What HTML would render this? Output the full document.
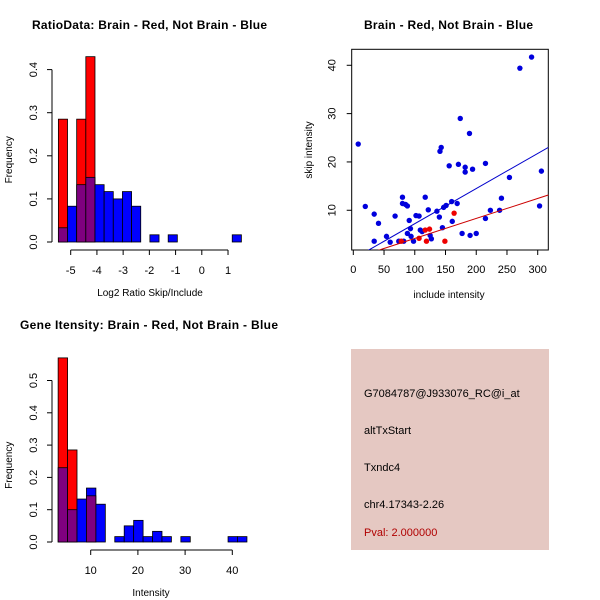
<!DOCTYPE html>
<html><head><meta charset="utf-8"><style>
html,body{margin:0;padding:0;background:#fff;}
svg{display:block;font-family:"Liberation Sans",sans-serif;}
</style></head><body>
<svg id="c" width="600" height="600" viewBox="0 0 600 600">
<rect width="600" height="600" fill="#fff"/>
<text x="32" y="29" font-size="12" font-weight="bold" textLength="235">RatioData: Brain - Red, Not Brain - Blue</text>
<text x="364" y="29" font-size="12" font-weight="bold" textLength="169">Brain - Red, Not Brain - Blue</text>
<text x="20" y="329" font-size="12" font-weight="bold" textLength="258">Gene Itensity: Brain - Red, Not Brain - Blue</text>
<g id="p1"></g>
<g id="p2"></g>
<g id="p3"></g>
<g>
<rect x="351" y="349" width="198" height="201" fill="#e5c8c2"/>
<text x="364" y="397" font-size="11">G7084787@J933076_RC@i_at</text>
<text x="364" y="434" font-size="11">altTxStart</text>
<text x="364" y="471" font-size="11">Txndc4</text>
<text x="364" y="508" font-size="11">chr4.17343-2.26</text>
<text x="364" y="536" font-size="11" fill="#b00000">Pval: 2.000000</text>
</g>
</svg>
<script>
// ---- ratio histogram data ----
const ratioBinStart = -5.47;
const ratioBinWidth = 0.349;
const ratioBlue = [0.033,0.083,0.133,0.15,0.133,0.117,0.10,0.117,0.083,0,0.0167,0,0.0167,0,0,0,0,0,0,0.0167];
const ratioRed  = [0.285,0,0.285,0.43,0,0,0,0,0,0,0,0,0,0,0,0,0,0,0,0];
const ratioXTicks = [-5,-4,-3,-2,-1,0,1];
const ratioYTicks = [0,0.1,0.2,0.3,0.4];
// ---- intensity histogram data ----
const intBinStart = 3.1;
const intBinWidth = 2;
const intBlue = [0.23,0.10,0.133,0.167,0.117,0,0.0167,0.05,0.067,0.0167,0.033,0.0167,0,0.0167,0,0,0,0,0.0167,0.0167];
const intRed  = [0.57,0.285,0,0.143,0,0,0,0,0,0,0,0,0,0,0,0,0,0,0,0];
const intXTicks = [10,20,30,40];
const intYTicks = [0,0.1,0.2,0.3,0.4,0.5];
// ---- scatter data ----
const blueX = [8,19.5,34,34,41,54,60,68,74,80,80,85,88,88,82,91,93,94,98,102,107,109,112,117,122,125,127,136,140,141,143,145,147,151,156,160,161,169,171,174,177,182,182,189,190,194,200,215,215,223,238,241,254,271,290,303,306];
const blueY = [23.7,10.8,9.2,3.6,7.3,4.6,3.4,8.8,3.6,12.7,11.4,11.2,10.9,5.2,3.6,7.9,6.2,4.6,3.6,8.9,8.8,5.9,5.6,12.7,10.1,4.8,4.1,9.8,8.6,22.2,23.0,6.4,10.6,11.0,19.2,11.8,7.7,11.4,19.5,29.0,5.2,18.9,17.9,25.9,4.8,18.5,5.2,8.3,19.7,10.0,10.0,12.5,16.8,39.4,41.7,10.9,18.1];
const redX = [78,107,119,117,124,149,164];
const redY = [3.6,4.2,3.6,5.9,6.1,3.6,9.4];
const blueFit = [-0.05, 0.0727]; // intercept, slope
const redFit = [0.03, 0.0414];
const scXTicks = [0,50,100,150,200,250,300];
const scYTicks = [10,20,30,40];

const NS="http://www.w3.org/2000/svg";
function mk(parent,tag,attrs,name){const e=document.createElementNS(NS,tag);for(const k in attrs)e.setAttribute(k,attrs[k]);


parent.appendChild(e);return e;}
function txt(parent,x,y,s,name,extra){const t=mk(parent,'text',Object.assign({x:x,y:y,'font-size':11,'text-anchor':'middle'},extra||{}),name);t.textContent=s;return t;}

function hist(g,o){
  const X=v=>o.x0px+(v-o.x0)*o.xs, Y=v=>o.y0px-v*o.ys;
  const n=o.blue.length;
  for(let i=0;i<n;i++){
    const a=X(o.bs+i*o.bw), b=X(o.bs+(i+1)*o.bw);
    const r=o.red[i], bl=o.blue[i], m=Math.min(r,bl), hi=Math.max(r,bl);
    if(hi<=0) continue;
    const top = r>=bl ? 'red':'blue';
    mk(g,'rect',{x:a,y:Y(hi),width:b-a,height:Y(0)-Y(hi),fill:top==='red'?'#ff0000':'#0000ff',stroke:'#000','stroke-width':0.8},'bar-'+top+'-'+i);
    if(m>0) mk(g,'rect',{x:a,y:Y(m),width:b-a,height:Y(0)-Y(m),fill:'#7f007f',stroke:'#000','stroke-width':0.8},'bar-overlap-'+i);
  }
  const yt=o.yt;
  mk(g,'line',{x1:o.yax,x2:o.yax,y1:Y(yt[0]),y2:Y(yt[yt.length-1]),stroke:'#000'},'y-axis');
  yt.forEach(v=>{mk(g,'line',{x1:o.yax-5,x2:o.yax,y1:Y(v),y2:Y(v),stroke:'#000'},'y-tick');
    txt(g,0,0,v.toFixed(1),'y-tick-label',{transform:`translate(${o.yax-15},${Y(v)}) rotate(-90)`});});
  const xt=o.xt;
  mk(g,'line',{x1:X(xt[0]),x2:X(xt[xt.length-1]),y1:o.xax,y2:o.xax,stroke:'#000'},'x-axis');
  xt.forEach(v=>{mk(g,'line',{x1:X(v),x2:X(v),y1:o.xax,y2:o.xax+5,stroke:'#000'},'x-tick');
    txt(g,X(v),o.xax+24,String(v),'x-tick-label');});
  txt(g,0,0,'Frequency','y-axis-title',{'font-size':10,transform:`translate(12,${(Y(0)+Y(yt[yt.length-1]))/2+4}) rotate(-90)`});
  txt(g,o.xlabX,o.xax+46,o.xlab,'x-axis-title',{'font-size':10});
}
hist(document.getElementById('p1'),{bs:ratioBinStart,bw:ratioBinWidth,blue:ratioBlue,red:ratioRed,x0:-5,x0px:70.7,xs:26.22,y0px:242,ys:431,yt:ratioYTicks,xt:ratioXTicks,yax:52,xax:250,xlab:'Log2 Ratio Skip/Include',xlabX:150});
hist(document.getElementById('p3'),{bs:intBinStart,bw:intBinWidth,blue:intBlue,red:intRed,x0:10,x0px:90.7,xs:4.72,y0px:542,ys:323,yt:intYTicks,xt:intXTicks,yax:52,xax:550,xlab:'Intensity',xlabX:151});

(function(){
  const g=document.getElementById('p2');
  const X=v=>353.3+v*0.6147, Y=v=>258.6-v*4.833;
  const L=351.7,R=548.3,T=49.3,B=250;
  const defs=mk(g,'clipPath',{id:'clp'},'plot-clip');
  mk(defs,'rect',{x:L,y:T,width:R-L,height:B-T},'clip-rect');
  mk(g,'rect',{x:L,y:T,width:R-L,height:B-T,fill:'none',stroke:'#000'},'plot-box');
  const cg=mk(g,'g',{'clip-path':'url(#clp)'},'plot-area');
  blueX.forEach((x,i)=>mk(cg,'circle',{cx:X(x),cy:Y(blueY[i]),r:2.7,fill:'#0000dd'},'point-not-brain'));
  redX.forEach((x,i)=>mk(cg,'circle',{cx:X(x),cy:Y(redY[i]),r:2.7,fill:'#ee0000'},'point-brain'));
  const x1=-10,x2=330;
  mk(cg,'line',{x1:X(x1),y1:Y(blueFit[0]+blueFit[1]*x1),x2:X(x2),y2:Y(blueFit[0]+blueFit[1]*x2),stroke:'#0000cc'},'fit-line-not-brain');
  mk(cg,'line',{x1:X(x1),y1:Y(redFit[0]+redFit[1]*x1),x2:X(x2),y2:Y(redFit[0]+redFit[1]*x2),stroke:'#cc0000'},'fit-line-brain');
  scXTicks.forEach(v=>{mk(g,'line',{x1:X(v),x2:X(v),y1:B,y2:B+5,stroke:'#000'},'x-tick');txt(g,X(v),B+23,String(v),'x-tick-label');});
  scYTicks.forEach(v=>{mk(g,'line',{x1:L-5,x2:L,y1:Y(v),y2:Y(v),stroke:'#000'},'y-tick');
    txt(g,0,0,String(v),'y-tick-label',{transform:`translate(${L-16},${Y(v)}) rotate(-90)`});});
  txt(g,449,298,'include intensity','x-axis-title',{'font-size':10});
  txt(g,0,0,'skip intensity','y-axis-title',{'font-size':10,transform:'translate(312,150) rotate(-90)'});
})();
</script>
</body></html>
